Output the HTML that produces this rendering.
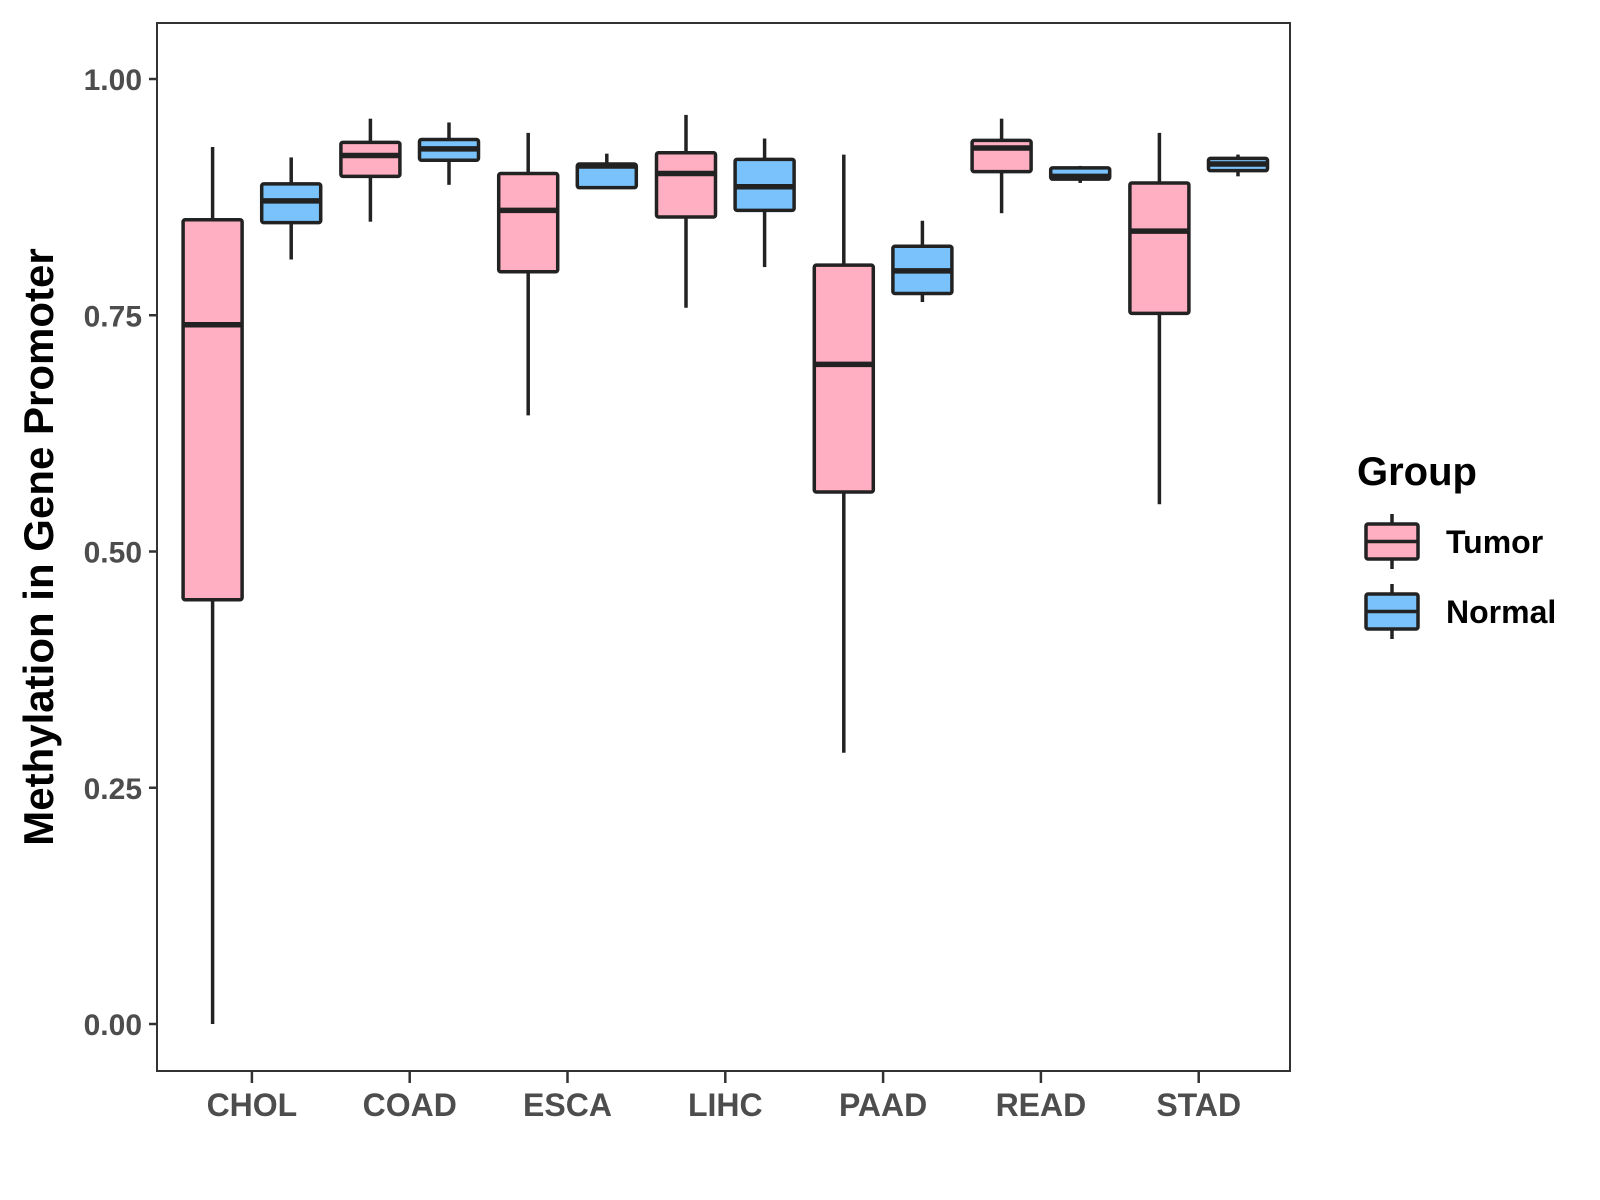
<!DOCTYPE html>
<html><head><meta charset="utf-8"><style>
html,body{margin:0;padding:0;background:#fff}
svg{display:block;font-family:"Liberation Sans",Arial,sans-serif;font-weight:bold}
</style></head><body>
<svg id="chart" width="1600" height="1200" viewBox="0 0 1600 1200" xmlns="http://www.w3.org/2000/svg"></svg>
<script>
const categories=["CHOL","COAD","ESCA","LIHC","PAAD","READ","STAD"];
const groups=["Tumor","Normal"];
const tumorStats=[[0.0,0.449,0.740,0.851,0.928],[0.849,0.897,0.919,0.933,0.958],[0.644,0.796,0.861,0.900,0.943],[0.758,0.854,0.900,0.922,0.962],[0.287,0.563,0.698,0.803,0.920],[0.858,0.902,0.927,0.935,0.958],[0.550,0.752,0.839,0.890,0.943]];
const normalStats=[[0.809,0.848,0.871,0.889,0.917],[0.888,0.914,0.926,0.936,0.954],[0.885,0.885,0.908,0.910,0.921],[0.801,0.861,0.886,0.915,0.937],[0.764,0.773,0.797,0.823,0.850],[0.890,0.894,0.897,0.906,0.908],[0.897,0.903,0.910,0.916,0.920]];
const yTicks=[0,0.25,0.5,0.75,1.0];
const yTickLabels=["0.00","0.25","0.50","0.75","1.00"];
const fills={Tumor:"#ffafc1",Normal:"#79c2fb"};
const P={l:157,r:1290,t:23,b:1071};
const yS=v=>1024-v*945;
const xC=i=>251.9+i*157.8;
const svg=document.getElementById('chart');
const NS="http://www.w3.org/2000/svg";
function mk(t,a,p){const e=document.createElementNS(NS,t);for(const k in a)e.setAttribute(k,a[k]);(p||svg).appendChild(e);return e;}
const panel=mk('rect',{x:P.l,y:P.t,width:P.r-P.l,height:P.b-P.t,fill:'#fff',stroke:'#333','stroke-width':2});


yTicks.forEach((v,i)=>{
  const t=mk('line',{x1:P.l-8,x2:P.l,y1:yS(v),y2:yS(v),stroke:'#333','stroke-width':2.5});
  
  
  const l=mk('text',{x:P.l-15,y:yS(v)+11,'text-anchor':'end','font-size':30,fill:'#4d4d4d'});
  l.textContent=yTickLabels[i];
  
  
});
categories.forEach((c,i)=>{
  const t=mk('line',{x1:xC(i),x2:xC(i),y1:P.b,y2:P.b+12,stroke:'#333','stroke-width':2.5});
  
  
  const l=mk('text',{x:xC(i),y:P.b+45,'text-anchor':'middle','font-size':32,fill:'#4d4d4d'});
  l.textContent=c;
  
  
});
function box(cx,s,fill,name){
  const g=mk('g',{});
  
  
  const w=59;
  mk('line',{x1:cx,x2:cx,y1:yS(s[4]),y2:yS(s[3]),stroke:'#222','stroke-width':3.5},g);
  mk('line',{x1:cx,x2:cx,y1:yS(s[1]),y2:yS(s[0]),stroke:'#222','stroke-width':3.5},g);
  mk('rect',{x:cx-w/2,y:yS(s[3]),width:w,height:Math.max(yS(s[1])-yS(s[3]),0.5),fill:fill,stroke:'#222','stroke-width':3.5,rx:2},g);
  mk('line',{x1:cx-w/2,x2:cx+w/2,y1:yS(s[2]),y2:yS(s[2]),stroke:'#222','stroke-width':5.5},g);
}
categories.forEach((c,i)=>{
  box(xC(i)-39.3,tumorStats[i],fills.Tumor,'box-tumor-'+c.toLowerCase());
  box(xC(i)+39.3,normalStats[i],fills.Normal,'box-normal-'+c.toLowerCase());
});
const yt=mk('text',{x:0,y:0,transform:'translate(53,547) rotate(-90)','text-anchor':'middle','font-size':42,fill:'#000'});
yt.textContent='Methylation in Gene Promoter';


const lt=mk('text',{x:1357,y:485,'font-size':40,fill:'#000'});
lt.textContent='Group';


groups.forEach((gname,i)=>{
  const y0=524+i*70;
  const g=mk('g',{});
  
  
  mk('line',{x1:1392,x2:1392,y1:y0-10,y2:y0+45,stroke:'#222','stroke-width':3.5},g);
  mk('rect',{x:1366,y:y0,width:52,height:35,fill:fills[gname],stroke:'#222','stroke-width':3.5,rx:2},g);
  mk('line',{x1:1366,x2:1418,y1:y0+17.5,y2:y0+17.5,stroke:'#222','stroke-width':3.5},g);
  const t=mk('text',{x:1446,y:y0+29,'font-size':32,fill:'#000'},g);
  t.textContent=gname;
});
</script>
</body></html>
